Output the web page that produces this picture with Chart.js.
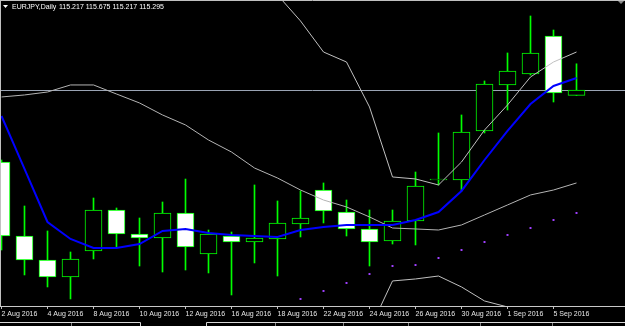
<!DOCTYPE html>
<html>
<head>
<meta charset="utf-8">
<script src="https://cdn.jsdelivr.net/npm/chart.js@4.4.1/dist/chart.umd.min.js"></script>
<style>
  html, body { margin: 0; padding: 0; background: #000; overflow: hidden; }
  #wrap { width: 625px; height: 326px; position: relative; }
</style>
</head>
<body>
<div id="wrap"><canvas id="grafico"></canvas></div>
<script>
const simbolo = "EURJPY,Daily";

const dias = [
  "2 Aug 2016", "3 Aug 2016", "4 Aug 2016", "5 Aug 2016", "8 Aug 2016", "9 Aug 2016",
  "10 Aug 2016", "11 Aug 2016", "12 Aug 2016", "15 Aug 2016", "16 Aug 2016", "17 Aug 2016",
  "18 Aug 2016", "19 Aug 2016", "22 Aug 2016", "23 Aug 2016", "24 Aug 2016", "25 Aug 2016",
  "26 Aug 2016", "29 Aug 2016", "30 Aug 2016", "31 Aug 2016", "1 Sep 2016", "2 Sep 2016",
  "5 Sep 2016", "6 Sep 2016"
];
// every other day gets a label
const marcas = [0, 2, 4, 6, 8, 10, 12, 14, 16, 18, 20, 22, 24];

const abertura = [114.251, 113.178, 112.830, 112.584, 112.961, 113.555, 113.207, 113.149, 113.512, 112.917, 113.178, 113.091, 113.135,
  113.352, 113.845, 113.526, 113.280, 113.106, 113.396, 113.990, 113.990, 114.700, 115.367, 115.527, 116.078, 115.217];
const maxima = [114.280, 113.613, 113.251, 112.946, 113.729, 113.584, 113.439, 113.671, 114.004, 113.265, 113.236, 113.918, 113.686,
  113.831, 113.947, 113.700, 113.555, 113.555, 114.106, 114.672, 114.933, 115.426, 115.832, 116.368, 116.165, 115.675];
const minima = [112.975, 112.613, 112.439, 112.265, 112.845, 113.004, 112.743, 112.656, 112.685, 112.642, 112.323, 112.787, 112.598,
  113.164, 113.367, 113.178, 112.743, 113.062, 113.048, 113.918, 113.830, 114.672, 115.005, 115.512, 115.121, 115.217];
const fechamento = [113.178, 112.830, 112.584, 112.845, 113.555, 113.207, 113.149, 113.512, 113.019, 113.207, 113.091, 113.149, 113.367,
  113.439, 113.541, 113.280, 113.091, 113.396, 113.903, 114.004, 114.686, 115.382, 115.571, 115.832, 115.252, 115.295];

// blue moving average
const media = [114.918, 114.150, 113.381, 113.135, 113.004, 113.004, 113.062, 113.251, 113.280, 113.222, 113.193, 113.178, 113.164,
  113.265, 113.309, 113.338, 113.338, 113.338, 113.410, 113.526, 113.831, 114.280, 114.701, 115.092, 115.353, 115.469];

// bollinger bands (grey)
const bandaMeio = [115.194, 115.223, 115.266, 115.368, 115.368, 115.237, 115.107, 114.933, 114.788, 114.570, 114.396, 114.164, 114.019,
  113.845, 113.700, 113.599, 113.454, 113.294, 113.280, 113.265, 113.338, 113.483, 113.628, 113.773, 113.845, 113.947];
const bandaSup = [118.630, 118.775, 118.920, 118.920, 118.775, 118.340, 118.195, 117.978, 117.760, 117.543, 117.325, 117.035, 116.673,
  116.296, 115.846, 115.701, 115.049, 114.034, 114.005, 113.918, 114.251, 114.715, 115.078, 115.484, 115.701, 115.846];
const bandaInf = [111.757, 111.670, 111.496, 111.235, 111.090, 111.264, 111.438, 111.743, 111.815, 111.598, 111.467, 111.293, 111.366,
  111.395, 111.554, 111.496, 111.815, 112.526, 112.555, 112.598, 112.439, 112.236, 112.149, 112.062, 111.989, 112.047];

// parabolic SAR dots
const sar = [null, null, null, null, null, null, null, null, null, null, null, null, null,
  112.265, 112.381, 112.497, 112.627, 112.743, 112.757, 112.859, 112.975, 113.091, 113.193, 113.294, 113.410, 113.512];

const VERDE = "#00ff00";

function pontos(arr) {
  return arr.map((v, i) => ({ x: i, y: v }));
}

function linha(arr, cor, largura, ordem) {
  return {
    type: "line",
    data: pontos(arr),
    borderColor: cor,
    borderWidth: largura,
    pointRadius: 0,
    pointHoverRadius: 0,
    tension: 0,
    fill: false,
    order: ordem,
  };
}

const linhaPreco = {
  id: "linhaPreco",
  beforeDatasetsDraw(chart) {
    const { ctx, chartArea, scales } = chart;
    const y = Math.round(scales.y.getPixelForValue(fechamento[fechamento.length - 1])) + 0.5;
    ctx.save();
    ctx.strokeStyle = "#9aa4b4";
    ctx.lineWidth = 1;
    ctx.beginPath();
    ctx.moveTo(chartArea.left, y);
    ctx.lineTo(chartArea.right, y);
    ctx.stroke();
    ctx.restore();
  },
};

const moldura = {
  id: "moldura",
  afterDraw(chart) {
    const { ctx, width, height } = chart;
    const n = fechamento.length - 1;
    ctx.save();
    // frame
    ctx.strokeStyle = "#c0c0c0";
    ctx.lineWidth = 1;
    ctx.beginPath();
    ctx.moveTo(0, 0.5);
    ctx.lineTo(width, 0.5);
    ctx.moveTo(0.5, 0);
    ctx.lineTo(0.5, 306);
    ctx.stroke();

    // header
    ctx.fillStyle = "#ffffff";
    ctx.beginPath();
    ctx.moveTo(3, 5);
    ctx.lineTo(8, 5);
    ctx.lineTo(5.5, 8);
    ctx.closePath();
    ctx.fill();
    ctx.font = '7px "Liberation Sans"';
    ctx.textBaseline = "middle";
    ctx.fillText(simbolo, 12, 7);
    const txt = [abertura[n], maxima[n], minima[n], fechamento[n]].map((v) => v.toFixed(3)).join(" ");
    ctx.fillText(txt, 59, 7);

    // shift marker top right
    ctx.fillStyle = "#8a8a8a";
    ctx.beginPath();
    ctx.moveTo(618, 1);
    ctx.lineTo(624, 1);
    ctx.lineTo(621, 4);
    ctx.closePath();
    ctx.fill();

    // tab strip at the bottom
    ctx.strokeStyle = "#d8d8d8";
    ctx.beginPath();
    ctx.moveTo(0, 322.5);
    ctx.lineTo(140.5, 322.5);
    ctx.lineTo(140.5, height);
    ctx.moveTo(206.5, height);
    ctx.lineTo(206.5, 322.5);
    ctx.lineTo(width, 322.5);
    ctx.stroke();
    ctx.strokeStyle = "#808080";
    ctx.beginPath();
    [71, 275, 343, 408, 480, 552].forEach((x) => {
      ctx.moveTo(x + 0.5, 323);
      ctx.lineTo(x + 0.5, height);
    });
    ctx.stroke();
    ctx.restore();
  },
};

function initGrafico() {
  const ctx = document.getElementById("grafico");

  const pavios = minima.map((v, i) => ({ x: i, y: [v, maxima[i]] }));
  const corpos = abertura.map((v, i) => ({ x: i, y: [v, fechamento[i]] }));
  const coresCorpo = abertura.map((v, i) => (fechamento[i] < v ? "#ffffff" : "#000000"));

  new Chart(ctx.getContext("2d"), {
    type: "bar",
    data: {
      datasets: [
        linha(media, "#0000ff", 2, 1),
        {
          type: "line",
          data: pontos(sar),
          showLine: false,
          pointStyle: "rect",
          pointRadius: 1.4,
          pointHoverRadius: 0,
          pointHitRadius: 0,
          pointBackgroundColor: "#a040ff",
          pointBorderWidth: 0,
          order: 2,
        },
        linha(bandaMeio, "#b4b4b4", 1, 3),
        linha(bandaSup, "#c0c0c0", 1, 3),
        linha(bandaInf, "#c0c0c0", 1, 3),
        {
          type: "bar",
          data: corpos,
          backgroundColor: coresCorpo,
          borderColor: VERDE,
          borderWidth: 1,
          borderSkipped: false,
          barThickness: 17,
          grouped: false,
          order: 4,
        },
        {
          type: "bar",
          data: pavios,
          backgroundColor: VERDE,
          borderWidth: 0,
          barThickness: 1,
          grouped: false,
          order: 5,
        },
      ],
    },
    options: {
      responsive: true,
      maintainAspectRatio: false,
      animation: false,
      events: [],
      layout: { padding: 0, autoPadding: false },
      plugins: { legend: { display: false }, tooltip: { enabled: false } },
      scales: {
        x: {
          type: "linear",
          min: -1.5 / 23,
          max: 623.5 / 23,
          offset: false,
          afterBuildTicks: (scale) => {
            scale.ticks = marcas.map((i) => ({ value: i }));
          },
          afterFit: (scale) => {
            scale.height = 20;
            scale.paddingLeft = 0;
            scale.paddingRight = 0;
          },
          ticks: {
            autoSkip: false,
            maxRotation: 0,
            minRotation: 0,
            align: "start",
            padding: 1,
            color: "#e6e6e6",
            font: { family: "Liberation Sans", size: 7 },
            callback: (v) => dias[v],
          },
          grid: { drawOnChartArea: false, drawTicks: true, tickLength: 3, color: "#c0c0c0", offset: false },
          border: { display: true, color: "#c8c8c8", width: 1 },
        },
        y: {
          type: "linear",
          display: false,
          min: 112.163,
          max: 116.6,
        },
      },
    },
    plugins: [linhaPreco, moldura],
  });
}

initGrafico();
</script>
</body>
</html>
